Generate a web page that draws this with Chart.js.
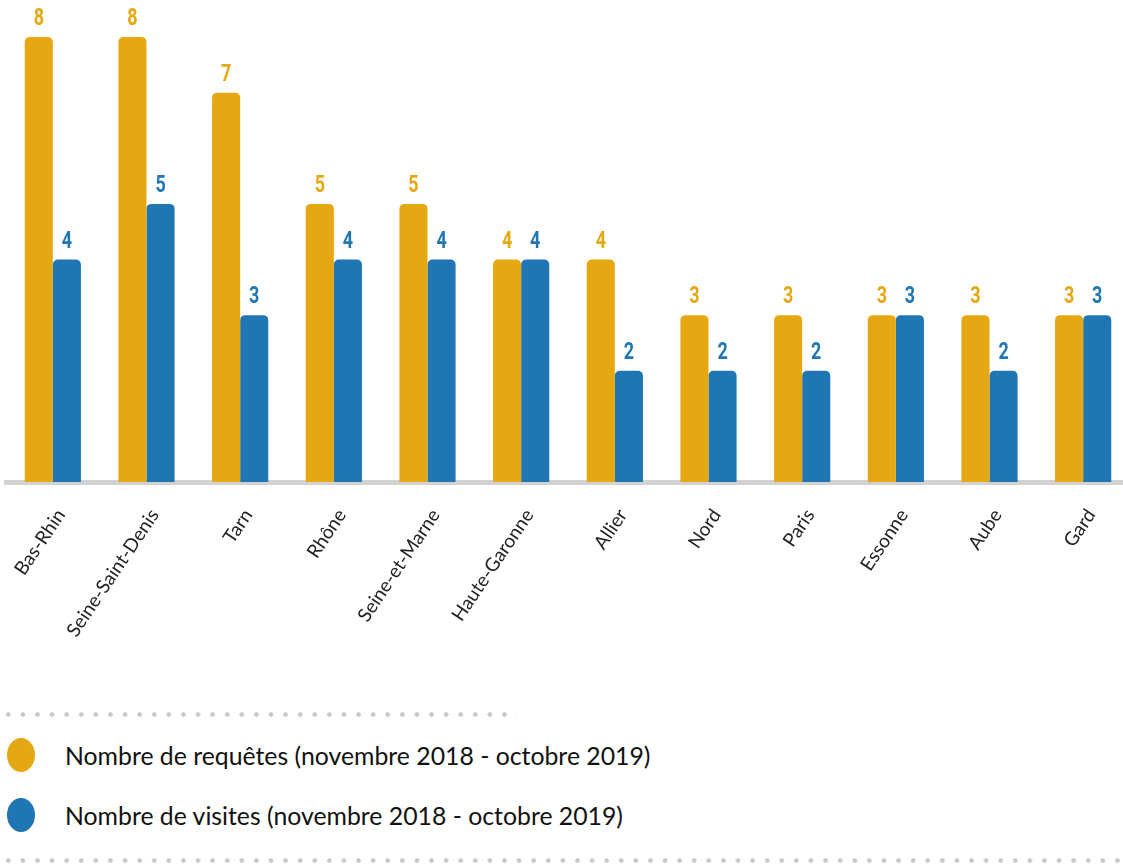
<!DOCTYPE html>
<html lang="fr">
<head>
<meta charset="utf-8">
<title>Requêtes et visites par département</title>
<script src="https://cdn.jsdelivr.net/npm/chart.js@4/dist/chart.umd.min.js"></script>
<style>
    html, body { margin: 0; padding: 0; background: #fff; overflow: hidden; }
    #page { position: relative; width: 1123px; height: 866px; overflow: hidden; }
    #sales-chart { position: absolute; left: 0; top: 0; }
    .dots { position: absolute; height: 5px;
            background-image: radial-gradient(circle, #c9c9c9 2px, transparent 2.5px);
            background-size: 14.6px 5px; background-repeat: repeat-x; }
    .legende { position: absolute; left: 7px; display: flex; align-items: center;
               font-family: Lato, "Open Sans", sans-serif; font-size: 24.8px; color: #111; }
    .legende span.pastille { display: inline-block; width: 28px; height: 34px; border-radius: 50%; margin-right: 30px; }
</style>
</head>
<body>
<div id="page">
    <canvas id="sales-chart" width="1136" height="690"></canvas>
    <div class="dots" style="left:1px; top:712px; width:516px;"></div>
    <div id="legend"></div>
    <div class="dots" style="left:1px; top:858px; width:1130px;"></div>
</div>
<script>
const departements = ['Bas-Rhin', 'Seine-Saint-Denis', 'Tarn', 'Rhône', 'Seine-et-Marne', 'Haute-Garonne',
    'Allier', 'Nord', 'Paris', 'Essonne', 'Aube', 'Gard'];
const requetes = [8, 8, 7, 5, 5, 4, 4, 3, 3, 3, 3, 3];
const visites = [4, 5, 3, 4, 4, 4, 2, 2, 2, 3, 2, 3];
const series = ['Nombre de requêtes (novembre 2018 - octobre 2019)', 'Nombre de visites (novembre 2018 - octobre 2019)'];

const ORANGE = '#E5A813';
const BLEU = '#1F76B3';

// valeurs affichées au-dessus des barres (chiffres resserrés)
const valeurs = {
    id: 'valeurs',
    afterDatasetsDraw(chart) {
        const ctx = chart.ctx;
        chart.data.datasets.forEach((ds, i) => {
            chart.getDatasetMeta(i).data.forEach((bar, j) => {
                ctx.save();
                ctx.font = 'bold 23px Roboto, sans-serif';
                ctx.textAlign = 'center';
                ctx.textBaseline = 'alphabetic';
                ctx.fillStyle = ds.backgroundColor;
                ctx.translate(bar.x, bar.y - 12);
                ctx.scale(0.78, 1);
                ctx.fillText(ds.data[j], 0, 0);
                ctx.restore();
            });
        });
    }
};

const ctx = document.getElementById('sales-chart').getContext('2d');
const chart = new Chart(ctx, {
    type: 'bar',
    data: {
        labels: departements,
        datasets: [{
            label: series[0],
            data: requetes,
            backgroundColor: ORANGE
        }, {
            label: series[1],
            data: visites,
            backgroundColor: BLEU
        }]
    },
    options: {
        responsive: false,
        animation: false,
        devicePixelRatio: 1,
        layout: { padding: { top: 37, left: 6, right: 6, bottom: 0 } },
        datasets: {
            bar: {
                barPercentage: 1,
                categoryPercentage: 0.6,
                borderRadius: { topLeft: 5, topRight: 5 },
                borderSkipped: 'bottom'
            }
        },
        plugins: {
            legend: { display: false },
            tooltip: { enabled: false }
        },
        scales: {
            x: {
                grid: { display: false, drawTicks: false },
                border: { display: true, color: '#d2d2d2', width: 5 },
                ticks: {
                    autoSkip: false,
                    minRotation: 56,
                    maxRotation: 56,
                    padding: 23,
                    labelOffset: 8,
                    color: '#222',
                    font: { family: 'Lato, "Open Sans", sans-serif', size: 19 }
                },
                afterFit: s => {
                    s.height = 208;
                    s.paddingLeft = 0;
                    s.paddingRight = 0;
                }
            },
            y: {
                display: false,
                min: 0,
                max: 8
            }
        }
    },
    plugins: [valeurs]
});

// légende construite à partir des séries
const legende = document.getElementById('legend');
chart.data.datasets.forEach((ds, i) => {
    const ligne = document.createElement('div');
    ligne.className = 'legende';
    ligne.style.top = (738 + i * 60) + 'px';
    ligne.innerHTML = '<span class="pastille" style="background:' + ds.backgroundColor + '"></span>';
    ligne.appendChild(document.createTextNode(ds.label));
    legende.appendChild(ligne);
});
</script>
</body>
</html>
